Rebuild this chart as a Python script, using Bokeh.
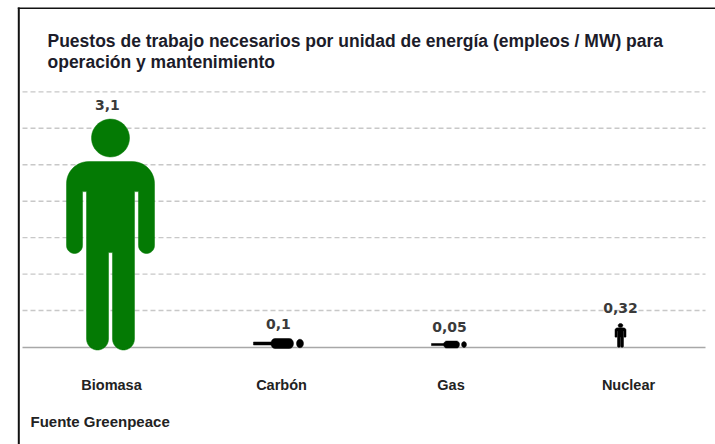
import numpy as np
from bokeh.core.properties import value
from bokeh.embed import file_html
from bokeh.models import (BoxAnnotation, ColumnDataSource, FixedTicker, Label, Range1d)
from bokeh.plotting import figure
from bokeh.resources import INLINE

# ---- data
categories = ["Biomasa", "Carbón", "Gas", "Nuclear"]
empleos = [3.1, 0.1, 0.05, 0.32]
value_labels = ["3,1", "0,1", "0,05", "0,32"]
grid_ticks = [0.5, 1.0, 1.5, 2.0, 2.5, 3.0, 3.5]
title_lines = ["Puestos de trabajo necesarios por unidad de energía (empleos / MW) para",
               "operación y mantenimiento"]
source_text = "Fuente Greenpeace"

# ---- layout and style
W, H = 715, 444
PX_X, PX_Y = 170.0, 72.9          # px per x unit and per job/MW
BASE_Y = 346.5                    # canvas px of zero
X0 = 110.0                        # canvas px of x = 0
LINE_LEFT, LINE_RIGHT = (22 - X0) / PX_X, (705 - X0) / PX_X
mark_pos = [0.0, 0.988, 1.991, 3.0]
label_pos = [0.006, 1.006, 2.003, 3.047]
text_pos = [-0.018, 0.988, 1.994, 3.0]
colors = ["#047a04", "#000000", "#000000", "#000000"]
pose = ["up", "down", "down", "up"]
half_w = [44 / PX_X, 25 / PX_X, 17.5 / PX_X, 5.5 / PX_X]   # half width (up) or half length (lying)
thick = [0, 10 / PX_Y, 7 / PX_Y, 0]


def arc(cx, cy, rx, ry, a0, a1, n=14):
    t = np.radians(np.linspace(a0, a1, n))
    return cx + rx * np.cos(t), cy + ry * np.sin(t)


def standing(xc, v, hw):
    """Pictogram outline: x in half widths, y as a fraction of the height."""
    seg = [
        ([0.0], [0.816]),
        arc(0.5, 0.721, 0.5, 0.095, 90, 0),
        arc(0.818, 0.4526, 0.182, 0.0346, 0, -180),
        ([0.636, 0.545], [0.686, 0.686]),
        arc(0.295, 0.048, 0.25, 0.048, 0, -180),
        ([0.045, 0.0], [0.422, 0.422]),
    ]
    rx = np.concatenate([np.asarray(s[0], float) for s in seg])
    ry = np.concatenate([np.asarray(s[1], float) for s in seg])
    ux = np.concatenate([rx, -rx[::-1]])
    uy = np.concatenate([ry, ry[::-1]])
    height, bottom = v * 1.022, -v * 0.0135
    body = (xc + ux * hw, bottom + uy * height)
    hx, hy = arc(0.0, 0.918, 0.432, 0.082, 0, 360, 40)
    head = (xc + hx * hw, bottom + hy * height)
    return [body, head]


def lying(xc, hl, t):
    """Pictogram lying flat, feet to the left: length fractions and thickness fractions."""
    yc = t * 0.35
    lx = np.array([-1.0, -0.2, -0.2, -1.0])
    ly = np.array([-0.15, -0.15, 0.15, 0.15])
    bx1, by1 = arc(0.44, 0.0, 0.16, 0.5, 270, 450)
    bx0, by0 = arc(-0.14, 0.0, 0.16, 0.5, 90, 270)
    hx, hy = arc(0.86, 0.0, 0.14, 0.42, 0, 360, 30)
    return [(xc + lx * hl, yc + ly * t),
            (xc + np.r_[bx1, bx0] * hl, yc + np.r_[by1, by0] * t),
            (xc + hx * hl, yc + hy * t)]


xs, ys, cs = [], [], []
for i, v in enumerate(empleos):
    parts = standing(mark_pos[i], v, half_w[i]) if pose[i] == "up" else lying(mark_pos[i], half_w[i], thick[i])
    for px_, py_ in parts:
        xs.append(px_.tolist())
        ys.append(py_.tolist())
        cs.append(colors[i])

p = figure(width=W, height=H, output_backend="svg", toolbar_location=None,
           min_border=0,
           x_range=Range1d(-X0 / PX_X, (W - X0) / PX_X),
           y_range=Range1d((BASE_Y - H) / PX_Y, BASE_Y / PX_Y))
p.outline_line_color = None
p.background_fill_color = "white"
p.border_fill_color = "white"
p.grid.visible = False
p.yaxis.visible = False

ax = p.xaxis[0]
ax.fixed_location = 0
ax.level = "underlay"
ax.bounds = (LINE_LEFT, LINE_RIGHT)
ax.ticker = FixedTicker(ticks=label_pos)
ax.major_label_overrides = dict(zip(label_pos, categories))
ax.major_tick_line_color = None
ax.minor_tick_line_color = None
ax.axis_line_color = "#a8a8a8"
ax.axis_line_width = 1.4
ax.major_label_standoff = 24
ax.major_label_text_font = "Liberation Sans"
ax.major_label_text_font_style = "bold"
ax.major_label_text_font_size = "14.5px"
ax.major_label_text_color = "#222222"

p.segment(x0=[LINE_LEFT] * len(grid_ticks), x1=[LINE_RIGHT] * len(grid_ticks), y0=grid_ticks, y1=grid_ticks,
          line_color="#c8c8c8", line_dash="5 3", line_width=1.4)

p.patches(xs="xs", ys="ys", fill_color="cs", line_color="cs", line_width=0.5,
          source=ColumnDataSource(dict(xs=xs, ys=ys, cs=cs)))

p.text(x=text_pos, y=empleos, text=value_labels, y_offset=-16,
       text_font=value("DejaVu Sans"), text_font_style="bold", text_font_size="14px",
       text_color="#3a3a3a", text_align="center", text_baseline="middle")

for line, top in zip(title_lines, [40, 61]):
    p.add_layout(Label(x=47, y=H - top, x_units="screen", y_units="screen", text=line,
                       text_font="Liberation Sans", text_font_style="bold", text_font_size="17.5px",
                       text_color="#1c1c2a", text_align="left", text_baseline="middle"))
p.add_layout(Label(x=30, y=H - 420.5, x_units="screen", y_units="screen", text=source_text,
                   text_font="Liberation Sans", text_font_style="bold", text_font_size="15px",
                   text_color="#222222", text_align="left", text_baseline="middle"))

# picture frame: top and left rule
p.add_layout(BoxAnnotation(left=17.3, right=19.3, top=H - 7, bottom=0, left_units="screen", right_units="screen",
                           top_units="screen", bottom_units="screen", fill_color="#111111", fill_alpha=1,
                           line_color=None, level="overlay"))
p.add_layout(BoxAnnotation(left=17.3, right=W, top=H - 7, bottom=H - 8.5, left_units="screen", right_units="screen",
                           top_units="screen", bottom_units="screen", fill_color="#111111", fill_alpha=1,
                           line_color=None, level="overlay"))

open("out.html", "w").write(file_html(p, INLINE))
